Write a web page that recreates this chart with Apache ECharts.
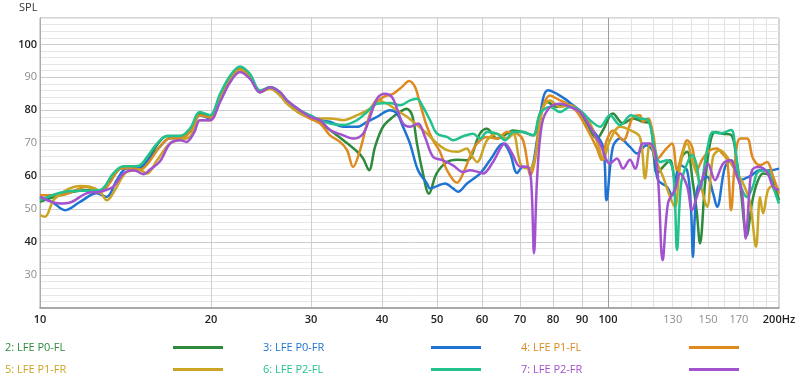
<!DOCTYPE html>
<html><head><meta charset="utf-8">
<script src="https://cdn.jsdelivr.net/npm/echarts@6/dist/echarts.min.js"></script>
<style>html,body{margin:0;padding:0;background:#fff}#c{width:800px;height:380px}</style>
</head><body><div id="c"></div>
<script>
// ---------- data ----------
const seriesNames = ['2: LFE P0-FL', '3: LFE P0-FR', '4: LFE P1-FL', '5: LFE P1-FR', '6: LFE P2-FL', '7: LFE P2-FR'];
const seriesColors = ['#2e8a3c', '#1f73d2', '#de8a1f', '#cba424', '#22c28f', '#a352cf'];

const p0flHz  = [10,10.84,12.07,12.75,13.28,13.83,14.41,15.0,15.43,16.07,16.74,17.64,18.37,19.13,19.92,20.75,21.61,22.5,23.43,24.4,25.41,26.46,27.22,28.7,29.88,31.12,32.4,34.2,36.2,37.05,37.96,38.89,40.17,41.83,43.3,44.2,45.2,46.1,47.1,48.4,49.9,52.06,54.2,56.47,59.5,61.2,63.8,66.4,68.0,70.9,73.8,75.9,78.1,81.3,84.7,88.2,91.8,95.6,98,102,106.3,110.7,115.2,118.6,122,125,128.6,131.2,135,137.8,141.1,143.2,145.2,148.2,151.2,154.3,159.4,165,168.4,170.8,175.5,179.3,183,187.5,192.9,200];
const p0flSpl = [52.2,54.2,55.8,55.3,58.5,62.3,62.8,63.0,64.5,69.5,72.2,72.2,74,79,78,84.5,90,93,90,85.5,87,85.5,82.5,79.5,78,76.5,74,70.9,67.4,65.4,61.8,68.9,75,78,79.8,80.5,78.5,69.9,61.8,54.7,60.8,64.3,65,64.8,72.9,74.4,71.4,72.9,73.9,73.4,72.4,79,82.5,81,82,80.5,76,71.4,74,79,76,77.5,76.5,75.9,60.8,62.8,64.8,58.8,65.9,67.4,57.8,49.7,39.6,57.8,69.9,73.4,72.9,72.4,64.8,57.8,42,52,58,60.8,60,52.7];

const p0frHz  = [10,10.54,11.07,11.76,12.58,13.1,13.65,14.2,15.0,15.43,16.27,16.94,17.64,18.37,19.13,19.92,20.75,21.61,22.5,23.43,24.4,25.41,26.46,27.22,28.7,29.88,31.12,32.4,34.2,36.2,37.65,39.2,41.32,42.5,43.56,44.81,46.29,48.0,48.6,50.0,51.64,53.35,54.44,56.47,59.52,62,65.35,67.23,69.17,70.87,72.9,74.99,76.84,78.41,81.32,84.69,86.78,90.36,94.11,97.99,99.4,102,105,109.3,112.5,116.8,120,122.5,127,129.6,133.9,137.8,140,141.1,142.2,144,149.4,153,155.6,160.7,165,170.8,177.8,185.2,192.9,200];
const p0frSpl = [53.7,52,49.7,52.2,54.8,53.7,58.8,62.3,62.4,64.5,69,71.5,71.5,73.5,78.5,77.5,83.5,89,92.5,90,85.5,87,85,82.5,79.5,78,77,76.5,75,75,76.5,78,80,79,75,69.9,61.8,57.8,56.3,57,57.8,56.3,55.3,57.8,60.8,64.9,69.9,66.9,61,62.9,62.3,70.9,83.5,86.1,85,83,81.5,79,74,68.9,52.7,68.9,71.4,68.9,66.9,69.4,67.5,58.8,56.8,54.2,63.3,61.8,50,35.5,48,56.8,59.8,55,50.7,62.8,64.8,58.8,60,61.8,61.8,62.3];

const p1flHz  = [10,10.84,11.76,12.07,12.75,13.28,13.83,14.41,15.0,15.43,16.27,16.94,17.64,18.37,19.13,19.92,20.75,21.61,22.5,23.43,24.4,25.41,26.46,27.22,28.7,29.88,31.12,32.4,33.75,34.72,35.58,36.6,37.65,38.58,40.17,41.83,43.38,44.63,45.73,46.67,48.01,49.19,50.61,52.06,54.22,55.56,57.15,58.81,61.24,63.77,66.42,69.17,70.87,72.32,72.91,74.39,75.91,79.04,82.32,84.69,88.19,91.84,95.63,97.5,99.5,102,106.3,110.7,113.8,115.2,117.6,120,122.5,126,129.6,132.3,135,137.8,140.6,143.5,146.4,151.2,155.6,158.8,162,164.7,167.4,170.8,175.7,180,185.2,190.5,195.2,200];
const p1flSpl = [54.2,54.2,56.3,56.8,55,58,62.3,62.5,62,63.5,69,71.5,71.5,73.5,78.5,77.8,84,89.5,92.5,90,85.5,86.5,84.5,82,79,77.5,76,72.4,70.4,67.9,62.8,67.9,76,81,84,85,87.1,88.9,87.1,82,75,70.9,67.4,61.8,58,60.8,65.9,69.9,71.9,71.4,73.4,72.9,70.9,62.9,60.3,64.9,77,84.5,83,82,79.5,74.4,68.4,64.9,70.9,73.9,70.9,78,78.5,76.5,77.5,72.9,65.4,67.9,69.9,61.8,66.9,70.9,68.9,61.8,65,67.9,68.4,66.9,65,49.7,64.8,71.4,71.4,65.4,63.3,64.3,60,54.7];

const p1frHz  = [10,10.2,10.63,11.76,12.25,12.75,13.12,13.55,14.23,15.0,15.43,16.07,16.94,17.64,18.37,19.13,19.92,20.75,21.61,22.5,23.43,24.4,25.41,26.46,27.22,28.7,29.88,31.12,32.4,34.2,36.16,38.11,39.2,40.82,42.51,44.27,46.1,48.01,50.0,52.06,54.22,56.47,57.15,58.81,61.24,63.77,66.42,68.05,70.3,72.91,74.99,76.53,79.04,82.32,85.73,89.27,92.97,96.3,98,100.8,105,109.3,113.8,116.2,118.6,122,125,128.6,131.2,133.9,137.8,141.1,145.2,149.4,153.1,157.5,162,166,172.9,177.8,182.2,185.2,187.5,191.3,195.2,200];
const p1frSpl = [48.2,47.7,53.3,57,56.8,55.3,52.7,55.8,61.3,61.8,60.8,64.8,70,71,72,77,77,83,89,92,90,86,86.5,84.5,82,79,78,77.5,77.5,77,78.5,80.5,83,82,80,78,75.5,72.9,69.9,67.9,67.4,68.4,67,64.3,70.9,72.9,71.4,72.9,63.3,62.3,68.9,80,83,81,81.5,79.5,76,68.9,64.9,70.9,75,74,71.9,59.3,69.9,64,59.8,53.7,50.7,62.8,69.9,64,58,50.7,65.9,67.9,65.9,62.8,57.8,52,38.6,53.7,48.7,55.8,57,55.8];

const p2flHz  = [10,11.07,12.75,13.45,14.02,14.64,15.0,15.43,16.07,16.74,17.64,18.37,19.13,19.92,20.75,21.61,22.5,23.43,24.4,25.41,26.46,27.22,28.7,29.88,31.12,32.4,34.2,36.16,37.65,39.2,41.32,43.03,44.81,46.1,47.24,48.6,50.0,52.06,53.35,55.56,57.86,59.52,61.24,63.77,65.88,68.05,70.87,73.79,75.91,79.04,82.32,85.73,89.27,92.97,96.8,100.8,105,109.8,113.8,117.6,121,123.5,127,130.2,132.3,134.5,137.8,140.6,143.5,145.2,149.4,153.1,157.5,164.7,167.4,170.8,175.7,180,183.7,190.5,195.2,200];
const p2flSpl = [52.7,55.3,55.8,60.8,63,63,63.3,65.8,69.9,72.2,72.2,74.5,79.5,78.5,85,90.5,93.3,91,86,87,85.5,83,80,78.5,77,76,75.5,77,79.5,82,82.2,81.5,83,83.5,81,77,72.9,71.9,70.9,72.1,72.9,71.4,73.4,72.9,70.9,73.4,73.4,72.4,79,81,79.5,81,80,77,75,78.5,75.5,78.5,77.5,77,67.9,64.3,64.8,61.8,37.6,57.8,63.8,66.4,62.8,56,67.9,73.4,73,74,68.9,57.8,53.7,57,61.3,61.8,56.8,51.7];

const p2frHz  = [10,10.84,11.29,12.07,12.75,13.45,14.02,14.64,15.2,15.62,16.27,16.94,17.64,18.1,18.7,19.13,19.92,20.75,21.61,22.5,23.43,24.4,25.41,26.46,27.22,28.7,29.88,31.12,32.4,34.2,35.58,37.05,38.11,39.2,40.49,41.66,42.51,43.56,44.81,46.29,47.62,49.19,51.23,53.35,55.56,57.15,59,60.25,62.74,65.88,67.77,70.02,72.02,73.2,74.09,74.99,76.53,79.04,82.32,85.73,89.27,92.97,96.8,100.8,103.7,106.3,109.3,111.6,115.2,118.6,122,124.8,127.6,131.2,133.9,137.8,140.6,143.5,146.4,150,154.3,159.4,164,168.7,172.2,174.8,177.3,179.3,183.7,190.5,195.2,200];
const p2frSpl = [53.7,51.7,52,54.8,55.3,56.8,60.8,61.8,60.6,62,64.5,69.9,70.9,70.4,73.4,77,77,82.5,88.5,91.6,89.5,85.5,87,85.5,83,80,78,77,74,72.4,71.4,72.9,78,83.5,85,84,80.5,76,75,76,71.9,65.9,64.8,63.3,61.3,61.8,61.3,60.8,64.3,69.9,66.9,62.9,62.9,58.8,36.6,58.8,76,81,82,81,79.5,75,69.9,63.8,65.4,62.3,65,62.3,69.9,69.9,62.8,34.5,52,55.8,60.8,57,49.7,54,58.8,63.8,58.8,63.8,64.8,60,55,41.1,55,61.8,62.8,61.3,56.8,55.8];

const seriesHz  = [p0flHz, p0frHz, p1flHz, p1frHz, p2flHz, p2frHz];
const seriesSpl = [p0flSpl, p0frSpl, p1flSpl, p1frSpl, p2flSpl, p2frSpl];

const xLabelHz = [10, 20, 30, 40, 50, 60, 70, 80, 90, 100, 130, 150, 170, 200];
const xBoldHz = [10, 20, 30, 40, 50, 60, 70, 80, 90, 100, 200];
const xMajorGridHz = [20, 30, 40, 50, 60, 70, 80, 90];
const xDecadeGridHz = [100];
const xMinorGridHz = [110, 120, 130, 140, 150, 160, 170, 180, 190];
const yLabels = [30, 40, 50, 60, 70, 80, 90, 100];
const yBoldLabels = [40, 60, 80, 100];

// ---------- chart ----------
const FONT = '"Open Sans", "Noto Sans", sans-serif';
const lg = v => Math.log10(v);
const xMin = lg(10), xMax = lg(200);

function gridAxis(hzList, color) {
  return {
    type: 'value', min: xMin, max: xMax, gridIndex: 0, position: 'bottom',
    axisLine: {show: false}, axisLabel: {show: false},
    axisTick: {show: false, customValues: hzList.map(lg)},
    splitLine: {show: true, lineStyle: {color: color, width: 1}}
  };
}

// legend layout: 3 columns x 2 rows; text column and line-sample column
const legendColText = [0, 258, 516];
const legendColLine = [173, 431, 689];
const legendRowTop = [342, 364];

function legendTextItem(i) {
  return {
    data: [{name: seriesNames[i], textStyle: {color: seriesColors[i]}}],
    left: legendColText[i % 3], top: legendRowTop[Math.floor(i / 3)],
    orient: 'horizontal', align: 'left', padding: 0,
    icon: 'rect', itemWidth: 0, itemHeight: 0, selectedMode: false,
    textStyle: {fontSize: 11, fontFamily: FONT}
  };
}
function legendLineItem(i) {
  return {
    data: [{name: seriesNames[i]}],
    left: legendColLine[i % 3], top: legendRowTop[Math.floor(i / 3)],
    orient: 'horizontal', align: 'left', padding: 0,
    icon: 'rect', itemWidth: 50, itemHeight: 3, selectedMode: false,
    formatter: () => ' ',
    textStyle: {fontSize: 11, fontFamily: FONT}
  };
}

const chart = echarts.init(document.getElementById('c'), null, {renderer: 'canvas'});

chart.setOption({
  animation: false,
  backgroundColor: '#fff',
  title: {text: 'SPL', left: 19, top: 2, padding: 0,
    textStyle: {fontSize: 11, fontWeight: 'normal', color: '#333', fontFamily: FONT}},
  grid: {left: 40, right: 21, top: 18, height: 290, show: true, borderColor: '#adadad', borderWidth: 1, backgroundColor: 'transparent'},
  legend: seriesNames.map((n, i) => legendTextItem(i)).concat(seriesNames.map((n, i) => legendLineItem(i))),
  xAxis: [
    {
      type: 'value', min: xMin, max: xMax, gridIndex: 0, position: 'bottom',
      axisLine: {show: true, lineStyle: {color: '#9a9a9a', width: 1.5}},
      axisTick: {show: false},
      splitLine: {show: false},
      axisLabel: {
        customValues: xLabelHz.map(lg), margin: 6, fontFamily: FONT, fontSize: 11,
        formatter: v => {
          const hz = Math.round(Math.pow(10, v));
          const txt = hz === 200 ? '200Hz' : String(hz);
          return xBoldHz.indexOf(hz) >= 0 ? '{b|' + txt + '}' : '{g|' + txt + '}';
        },
        rich: {
          b: {fontSize: 11, fontWeight: 600, color: '#222', fontFamily: FONT},
          g: {fontSize: 11, fontWeight: 'normal', color: '#8c8c8c', fontFamily: FONT}
        }
      }
    },
    gridAxis(xMajorGridHz, '#cfcfcf'),
    gridAxis(xDecadeGridHz, '#9c9c9c'),
    gridAxis(xMinorGridHz, '#e3e3e3')
  ],
  yAxis: {
    type: 'value', min: 20, max: 108, interval: 2,
    axisLine: {show: true, lineStyle: {color: '#ababab', width: 1}},
    axisTick: {show: false},
    splitLine: {show: true, lineStyle: {color: ['#cdcdcd', '#e6e6e6', '#e6e6e6', '#e6e6e6', '#e6e6e6'], width: 1}},
    axisLabel: {
      margin: 3, fontFamily: FONT, fontSize: 11,
      formatter: v => {
        if (yLabels.indexOf(v) < 0) return '';
        return yBoldLabels.indexOf(v) >= 0 ? '{b|' + v + '}' : '{g|' + v + '}';
      },
      rich: {
        b: {fontSize: 11, fontWeight: 600, color: '#222', fontFamily: FONT},
        g: {fontSize: 11, fontWeight: 'normal', color: '#8c8c8c', fontFamily: FONT}
      }
    }
  },
  series: seriesNames.map((n, i) => ({
    name: n, type: 'line', xAxisIndex: 0, yAxisIndex: 0,
    data: seriesHz[i].map((f, k) => [lg(f), seriesSpl[i][k]]),
    symbol: 'none', showSymbol: false, smooth: 0.35,
    color: seriesColors[i],
    lineStyle: {width: 2.5, color: seriesColors[i]}
  }))
});
</script>
</body></html>
